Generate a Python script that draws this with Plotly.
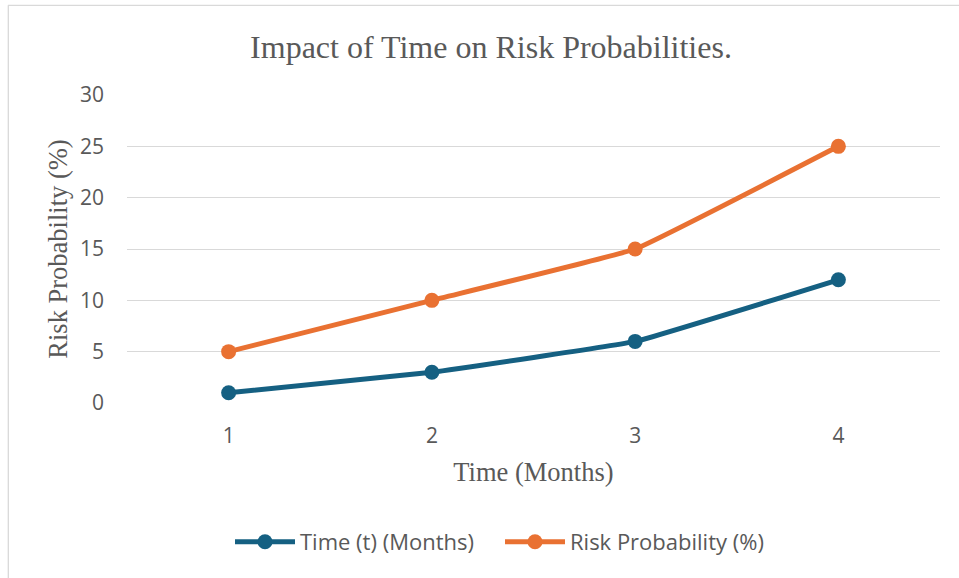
import plotly.graph_objects as go

months = [1, 2, 3, 4]
time_values = [1, 3, 6, 12]
risk_values = [5, 10, 15, 25]
y_ticks = [0, 5, 10, 15, 20, 25, 30]

BLUE = "#156082"
ORANGE = "#E97132"
GREY = "#595959"

L, R, T, B = 127, 19, 95, 175
W, H = 959, 578
pw, ph = W - L - R, H - T - B

def px_x(p):
    return (p - L) / pw

def px_y(p):
    return (H - B - p) / ph

fig = go.Figure()
fig.add_trace(go.Scatter(
    x=months, y=time_values, name="Time (t) (Months)", mode="lines+markers",
    line=dict(color=BLUE, width=5, shape="spline", smoothing=0.25),
    marker=dict(color=BLUE, size=15),
))
fig.add_trace(go.Scatter(
    x=months, y=risk_values, name="Risk Probability (%)", mode="lines+markers",
    line=dict(color=ORANGE, width=5, shape="spline", smoothing=0.25),
    marker=dict(color=ORANGE, size=15),
))

fig.update_layout(
    width=W, height=H,
    margin=dict(l=L, r=R, t=T, b=B),
    paper_bgcolor="white", plot_bgcolor="white",
    title=dict(text="Impact of Time on Risk Probabilities.",
               font=dict(family="Liberation Serif", size=32, color=GREY),
               x=px_x(491), xref="paper", xanchor="center",
               y=1 - 47 / H, yref="container", yanchor="middle"),
    xaxis=dict(range=[0.5, 4.5], tickvals=months, ticktext=[str(m) for m in months],
               showgrid=False, zeroline=False, showline=False,
               tickfont=dict(family="Open Sans", size=21, color=GREY),
               ticks="", ticklabelstandoff=18,
               title=dict(text="Time (Months)", standoff=14,
                          font=dict(family="Liberation Serif", size=26.5, color=GREY))),
    yaxis=dict(range=[0, 30], tickvals=y_ticks, showgrid=True, gridcolor="#d9d9d9",
               gridwidth=1.3, zeroline=False, showline=False,
               tickfont=dict(family="Open Sans", size=21, color=GREY),
               ticks="", ticklabelstandoff=22,
               title=dict(text="Risk Probability (%)", standoff=4,
                          font=dict(family="Liberation Serif", size=26.5, color=GREY))),
    legend=dict(orientation="h", x=px_x(230), xanchor="left", y=px_y(542), yanchor="middle",
                font=dict(family="Open Sans", size=22, color=GREY),
                itemwidth=60, entrywidth=195, entrywidthmode="pixels", tracegroupgap=0),
    shapes=[
        dict(type="line", xref="paper", yref="paper", x0=px_x(8), x1=px_x(965),
             y0=px_y(5.3), y1=px_y(5.3), line=dict(color="#d9d9d9", width=1.3)),
        dict(type="line", xref="paper", yref="paper", x0=px_x(8.3), x1=px_x(8.3),
             y0=px_y(5.3), y1=px_y(590), line=dict(color="#d9d9d9", width=1.3)),
    ],
)

fig.write_html("out.html", config={"displayModeBar": False},
               post_script="document.body.style.margin='0px';document.body.style.overflow='hidden';")
